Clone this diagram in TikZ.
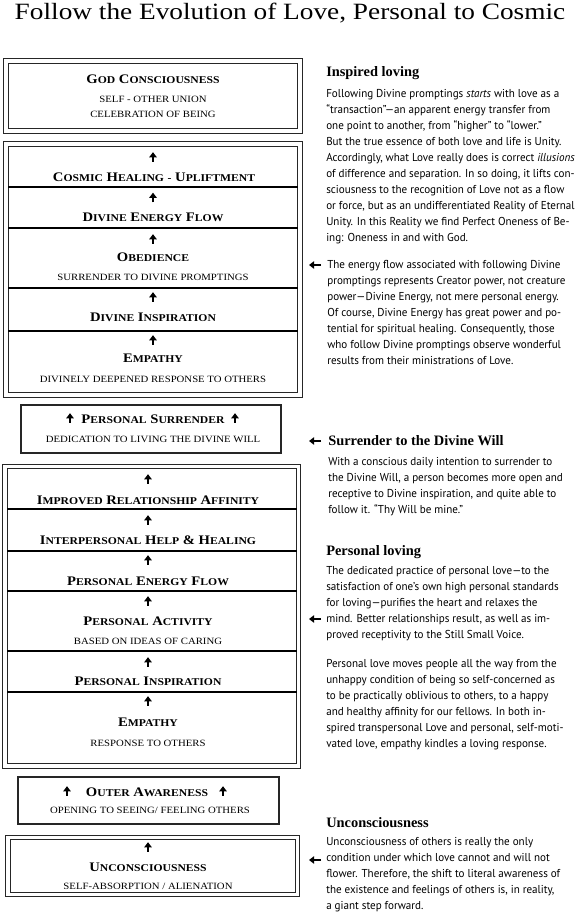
\documentclass[tikz,border=0pt]{standalone}
\usepackage{fontspec}
\setmainfont{Liberation Serif}
\newfontfamily\titlefont[FakeStretch=1.17]{Liberation Serif}
\newfontfamily\capfont[FakeStretch=1.12]{Liberation Serif}
\newfontfamily\txtfont[FakeStretch=0.965]{PT Sans}
\usepackage{tikz}
\usetikzlibrary{arrows.meta}
\newcommand\sm[1]{{\fontsize{7.8}{8}\selectfont #1}}

\begin{document}
\begin{tikzpicture}[x=0.75pt,y=-0.75pt,
  frame/.style={draw=black!85,line width=0.8pt,double,double distance=2.4pt},
  single/.style={draw=black!85,line width=1pt},
  divider/.style={draw=black,line width=0.9pt},
  lvl/.style={font=\capfont\bfseries\fontsize{9.8}{10}\selectfont,anchor=base,inner sep=0pt},
  sub/.style={font=\capfont\fontsize{7.2}{8}\selectfont,anchor=base,inner sep=0pt},
  hd/.style={font=\bfseries\fontsize{10.8}{12}\selectfont,anchor=base west,inner sep=0pt},
  para/.style={font=\txtfont\fontsize{8.6}{12}\selectfont,align=left,anchor=north west,inner sep=0pt},
  uparr/.pic={\draw[line width=1.4pt,-{Triangle[width=5.5pt,length=3.8pt]}] (0,4.8) -- (0,-4.8);},
  leftarr/.pic={\draw[line width=1.4pt,-{Triangle[width=5.5pt,length=3.8pt]}] (6,0) -- (-6,0);}]
\useasboundingbox (0,0) rectangle (580,912);
\node[font=\titlefont\fontsize{17.5}{20}\selectfont,anchor=base,inner sep=0pt] (title) at (290,20)
  {Follow the Evolution of Love, Personal to Cosmic};
% --- god consciousness ---
\draw[frame] (6,61) rectangle (300,131);
\node[lvl] (god) at (153,84) {G\sm{OD} C\sm{ONSCIOUSNESS}};
\node[sub] (godA) at (153,102.5) {SELF - OTHER UNION};
\node[sub] (godB) at (153,118) {CELEBRATION OF BEING};
% --- cosmic group ---
\draw[frame] (6,144) rectangle (300,395);
\draw[divider] (8,187) -- (298,187);
\draw[divider] (8,228) -- (298,228);
\draw[divider] (8,288) -- (298,288);
\draw[divider] (8,331) -- (298,331);
\pic at (153,157) {uparr};
\node[lvl] (cosmic) at (154,182) {C\sm{OSMIC} H\sm{EALING} \sm{-} U\sm{PLIFTMENT}};
\pic at (153,197.5) {uparr};
\node[lvl] (divflow) at (153,221.5) {D\sm{IVINE} E\sm{NERGY} F\sm{LOW}};
\pic at (153,239) {uparr};
\node[lvl] (obed) at (153,261.5) {O\sm{BEDIENCE}};
\node[sub] (obedA) at (153,280.5) {SURRENDER TO DIVINE PROMPTINGS};
\pic at (153,297) {uparr};
\node[lvl] (divinsp) at (153,322) {D\sm{IVINE} I\sm{NSPIRATION}};
\pic at (153,340) {uparr};
\node[lvl] (divemp) at (153,362) {E\sm{MPATHY}};
\node[sub] (divempA) at (153,382.5) {DIVINELY DEEPENED RESPONSE TO OTHERS};
% --- personal surrender ---
\draw[single] (21,405) rectangle (281,453);
\pic at (70,418) {uparr};
\pic at (235,418) {uparr};
\node[lvl] (surr) at (153,423) {P\sm{ERSONAL} S\sm{URRENDER}};
\node[sub] (surrA) at (153,442) {DEDICATION TO LIVING THE DIVINE WILL};
% --- personal group ---
\draw[frame] (5,466.5) rectangle (298.5,766);
\draw[divider] (7,509) -- (296.5,509);
\draw[divider] (7,551) -- (296.5,551);
\draw[divider] (7,591) -- (296.5,591);
\draw[divider] (7,651) -- (296.5,651);
\draw[divider] (7,692) -- (296.5,692);
\pic at (148,479) {uparr};
\node[lvl] (improved) at (148,504) {I\sm{MPROVED} R\sm{ELATIONSHIP} A\sm{FFINITY}};
\pic at (148,520) {uparr};
\node[lvl] (interp) at (148,544) {I\sm{NTERPERSONAL} H\sm{ELP} \& H\sm{EALING}};
\pic at (148,560) {uparr};
\node[lvl] (persflow) at (148,585) {P\sm{ERSONAL} E\sm{NERGY} F\sm{LOW}};
\pic at (148,601) {uparr};
\node[lvl] (persact) at (148,625) {P\sm{ERSONAL} A\sm{CTIVITY}};
\node[sub] (persactA) at (148,644) {BASED ON IDEAS OF CARING};
\pic at (148,662) {uparr};
\node[lvl] (persinsp) at (148,685.5) {P\sm{ERSONAL} I\sm{NSPIRATION}};
\pic at (148,701) {uparr};
\node[lvl] (persemp) at (148,726.5) {E\sm{MPATHY}};
\node[sub] (persempA) at (148,746.5) {RESPONSE TO OTHERS};
% --- outer awareness ---
\draw[single] (18,777) rectangle (279,824);
\pic at (67,791) {uparr};
\pic at (223,791) {uparr};
\node[lvl] (outer) at (147,796) {O\sm{UTER} A\sm{WARENESS}};
\node[sub] (outerA) at (150,813) {OPENING TO SEEING/ FEELING OTHERS};
% --- unconsciousness ---
\draw[frame] (8,837.5) rectangle (297.5,894.5);
\pic at (148,847) {uparr};
\node[lvl] (uncon) at (148,871) {U\sm{NCONSCIOUSNESS}};
\node[sub] (unconA) at (148,889) {SELF-ABSORPTION / ALIENATION};
% --- right column ---
\node[hd] (hIns) at (326,77) {Inspired loving};
\node[para] (pIns) at (326,88.7) {Following Divine promptings \emph{starts} with love as a\\
“transaction”—an apparent energy transfer from\\
one point to another, from “higher” to “lower.”\\
But the true essence of both love and life is Unity.\\
Accordingly, what Love really does is correct \emph{illusions}\\
of difference and separation. In so doing, it lifts con-\\
sciousness to the recognition of Love not as a flow\\
or force, but as an undifferentiated Reality of Eternal\\
Unity. In this Reality we find Perfect Oneness of Be-\\
ing: Oneness in and with God.};
\pic at (315,265) {leftarr};
\node[para] (pFlow) at (327,259.7) {The energy flow associated with following Divine\\
promptings represents Creator power, not creature\\
power—Divine Energy, not mere personal energy.\\
Of course, Divine Energy has great power and po-\\
tential for spiritual healing. Consequently, those\\
who follow Divine promptings observe wonderful\\
results from their ministrations of Love.};
\pic at (315,441) {leftarr};
\node[hd] (hSurr) at (328,445) {Surrender to the Divine Will};
\node[para] (pSurr) at (328,456.7) {With a conscious daily intention to surrender to\\
the Divine Will, a person becomes more open and\\
receptive to Divine inspiration, and quite able to\\
follow it. “Thy Will be mine.”};
\node[hd] (hPers) at (326,555) {Personal loving};
\node[para] (pPers) at (326,565.7) {The dedicated practice of personal love—to the\\
satisfaction of one’s own high personal standards\\
for loving—purifies the heart and relaxes the\\
mind. Better relationships result, as well as im-\\
proved receptivity to the Still Small Voice.};
\pic at (315,619) {leftarr};
\node[para] (pPersB) at (326,658.7) {Personal love moves people all the way from the\\
unhappy condition of being so self-concerned as\\
to be practically oblivious to others, to a happy\\
and healthy affinity for our fellows. In both in-\\
spired transpersonal Love and personal, self-moti-\\
vated love, empathy kindles a loving response.};
\node[hd] (hUncon) at (326,827) {Unconsciousness};
\node[para] (pUncon) at (326,836.7) {Unconsciousness of others is really the only\\
condition under which love cannot and will not\\
flower. Therefore, the shift to literal awareness of\\
the existence and feelings of others is, in reality,\\
a giant step forward.};
\pic at (315,860) {leftarr};
\end{tikzpicture}
\end{document}
